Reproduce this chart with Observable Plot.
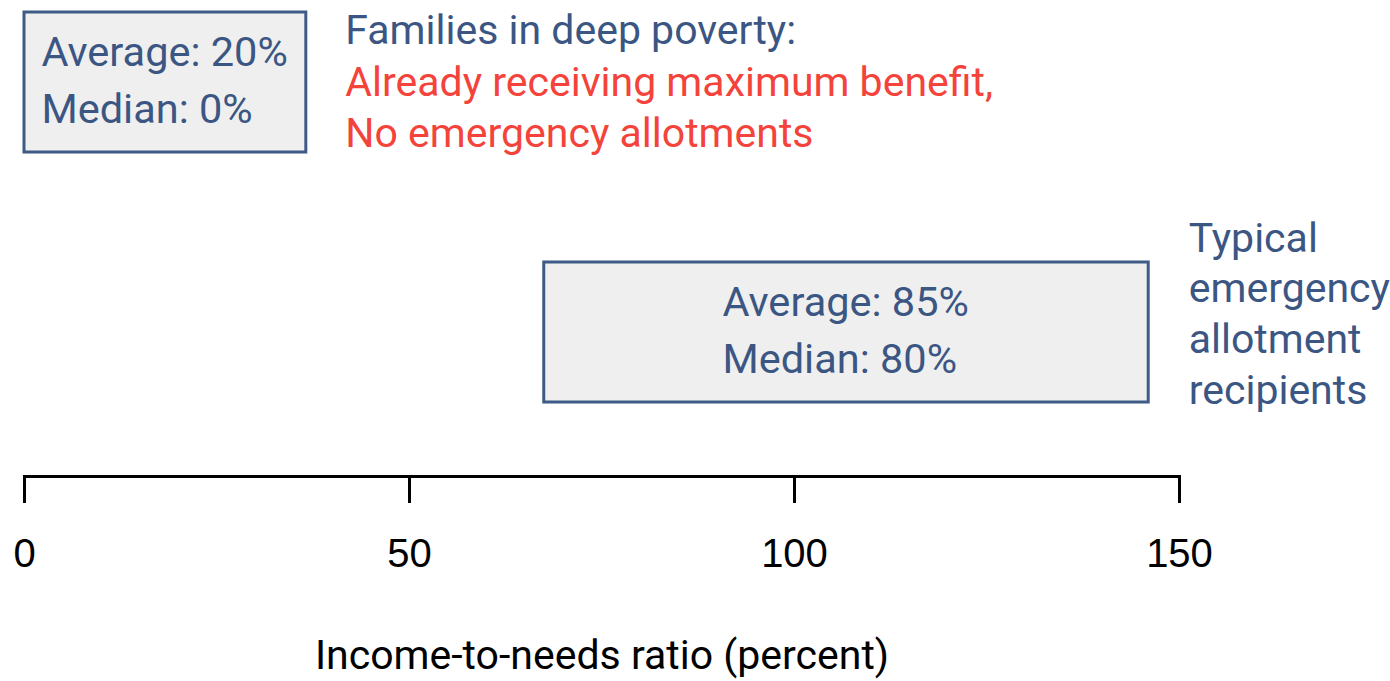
<!DOCTYPE html>
<html>
<head>
<meta charset="utf-8">
<script src="https://cdn.jsdelivr.net/npm/d3@7"></script>
<script src="https://cdn.jsdelivr.net/npm/@observablehq/plot@0.6"></script>
<style>
  html, body { margin: 0; padding: 0; background: #ffffff; }
  #chart svg { display: block; }
</style>
</head>
<body>
<div id="chart"></div>
<script>
// ---- data ----
const groups = ["deep", "typical"];
const rangeStart = [0, 67.5];     // income-to-needs ratio (percent)
const rangeEnd = [36.6, 146];
const averages = [20, 85];
const medians = [0, 80];
const xTicks = [0, 50, 100, 150];
const deepHeading = "Families in deep poverty:";
const deepNote = ["Already receiving maximum benefit,", "No emergency allotments"];
const typicalNote = ["Typical", "emergency", "allotment", "recipients"];
const xLabel = "Income-to-needs ratio (percent)";

const boxes = groups.map((g, i) => ({
  group: g,
  x1: rangeStart[i],
  x2: rangeEnd[i],
  mid: (rangeStart[i] + rangeEnd[i]) / 2,
  text: `Average: ${averages[i]}%\nMedian: ${medians[i]}%`
}));

const BLUE = "#3b5683";
const RED = "#f4433a";
const FONT = "Roboto, 'Open Sans', sans-serif";
const FS = 41;

const chart = Plot.plot({
  width: 1390,
  height: 681,
  marginLeft: 24,
  marginRight: 211,
  marginTop: 0,
  marginBottom: 205,
  style: {background: "#ffffff", fontFamily: FONT},
  x: {domain: [0, 150]},
  y: {type: "band", domain: groups, range: [12, 402], paddingInner: 0.44, paddingOuter: 0, axis: null},
  marks: [
    Plot.barX(boxes, {
      x1: "x1", x2: "x2", y: "group",
      fill: "#efefef", stroke: "#3e5b87", strokeWidth: 3, inset: 0
    }),
    Plot.text(boxes, {
      x: "mid", y: "group", text: "text",
      textAnchor: "start", dx: -124, dy: -6.5,
      lineHeight: 1.39, fontSize: 41.5, fontFamily: FONT, fill: BLUE
    }),
    Plot.text([boxes[0]], {
      x: "x2", y: "group", text: () => deepHeading,
      textAnchor: "start", dx: 39, dy: -52,
      fontSize: FS, fontFamily: FONT, fill: BLUE
    }),
    Plot.text([boxes[0]], {
      x: "x2", y: "group", text: () => deepNote.join("\n"),
      textAnchor: "start", dx: 39, dy: 22.5, lineHeight: 1.244,
      fontSize: FS, fontFamily: FONT, fill: RED
    }),
    Plot.text([boxes[1]], {
      x: "x2", y: "group", text: () => typicalNote.join("\n"),
      textAnchor: "start", dx: 40, dy: -21, lineHeight: 1.237,
      fontSize: FS, fontFamily: FONT, fill: BLUE
    }),
    Plot.frame({anchor: "bottom", stroke: "#000000", strokeWidth: 3}),
    Plot.axisX({
      anchor: "bottom", ticks: xTicks, tickFormat: d => String(d),
      tickSize: 27, tickPadding: 35, strokeWidth: 3, stroke: "#000000",
      fontSize: 40, fontFamily: "'Liberation Sans', Arial, sans-serif", fill: "#000000",
      label: null
    }),
    Plot.axisX({
      anchor: "bottom", ticks: [], label: xLabel, labelArrow: "none",
      labelAnchor: "center", labelOffset: 192,
      fontSize: 41, fontFamily: FONT, fill: "#000000"
    })
  ]
});
document.getElementById("chart").appendChild(chart);
</script>
</body>
</html>
